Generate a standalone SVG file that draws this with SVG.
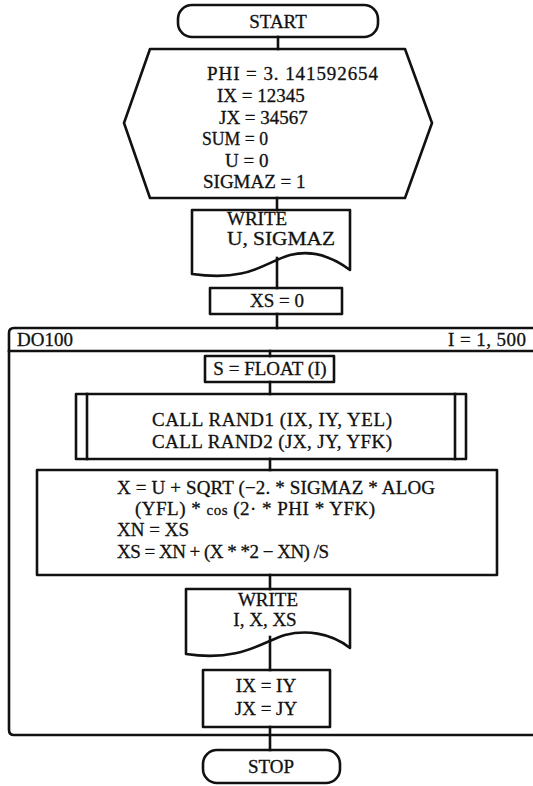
<svg xmlns="http://www.w3.org/2000/svg" width="533" height="786" viewBox="0 0 533 786">
<style>
.s{fill:none;stroke:#111;stroke-width:2.6;stroke-linejoin:round;stroke-linecap:square}
.t{font-family:"Liberation Serif","Times New Roman",serif;font-size:19px;fill:#111;stroke:#111;stroke-width:0.3}
.c{text-anchor:middle}
</style>
<rect width="533" height="786" fill="#fff"/>
<g id="connectors" class="s">
<line x1="278" y1="37" x2="278" y2="49"/>
<line x1="277" y1="198" x2="277" y2="210"/>
<line x1="277" y1="258" x2="277" y2="288"/>
<line x1="277" y1="314" x2="277" y2="328"/>
<line x1="270" y1="351" x2="270" y2="356"/>
<line x1="270" y1="382" x2="270" y2="394"/>
<line x1="270" y1="459" x2="270" y2="470"/>
<line x1="270" y1="575" x2="270" y2="589"/>
<line x1="270" y1="637" x2="270" y2="670"/>
<line x1="270" y1="727" x2="270" y2="750"/>
</g>
<g id="start">
<rect class="s" x="178" y="5" width="200" height="32" rx="14"/>
<text class="t c" x="278" y="28">START</text>
</g>
<g id="init">
<polygon class="s" points="150,49 405,49 432,123 405,198 150,198 124,123"/>
<text class="t" x="207" y="80" textLength="171" lengthAdjust="spacing">PHI = 3. 141592654</text>
<text class="t" x="217" y="102">IX = 12345</text>
<text class="t" x="219" y="124">JX = 34567</text>
<text class="t" x="202" y="145" textLength="66" lengthAdjust="spacingAndGlyphs">SUM  = 0</text>
<text class="t" x="225" y="167">U = 0</text>
<text class="t" x="203" y="188">SIGMAZ = 1</text>
</g>
<g id="write1">
<path class="s" d="M192,210 H350 V270 C330,255 310,250 290,255 C265,262 250,282 192,274 Z"/>
<text class="t" x="227" y="225">WRITE</text>
<text class="t" x="227" y="245" textLength="108" lengthAdjust="spacingAndGlyphs">U, SIGMAZ</text>
</g>
<g id="xs0">
<rect class="s" x="210" y="288" width="132" height="26"/>
<text class="t c" x="277" y="307">XS = 0</text>
</g>
<g id="loop">
<path class="s" d="M540,328 H14 Q9,328 9,333 V730 Q9,735 14,735 H540"/>
<line class="s" x1="9" y1="351" x2="540" y2="351"/>
<text class="t" x="17" y="346">DO100</text>
<text class="t" x="448" y="346" textLength="78" lengthAdjust="spacing">I = 1, 500</text>
</g>
<g id="sfloat">
<rect class="s" x="205" y="356" width="129" height="26"/>
<text class="t c" x="270" y="375">S = FLOAT (I)</text>
</g>
<g id="call">
<rect class="s" x="76" y="394" width="390" height="65"/>
<line class="s" x1="87" y1="394" x2="87" y2="459"/>
<line class="s" x1="455" y1="394" x2="455" y2="459"/>
<text class="t c" x="272" y="426" textLength="240" lengthAdjust="spacing">CALL  RAND1 (IX, IY, YEL)</text>
<text class="t c" x="272" y="448" textLength="240" lengthAdjust="spacing">CALL  RAND2 (JX, JY, YFK)</text>
</g>
<g id="compute">
<rect class="s" x="37" y="470" width="460" height="105"/>
<text class="t" x="117" y="494" textLength="318" lengthAdjust="spacing">X = U + SQRT (−2. * SIGMAZ * ALOG</text>
<text class="t" x="135" y="515" textLength="240" lengthAdjust="spacing">(YFL) * <tspan font-size="15">cos</tspan> (2· * PHI * YFK)</text>
<text class="t" x="117" y="536">XN = XS</text>
<text class="t" x="117" y="558" textLength="212" lengthAdjust="spacing">XS = XN + (X * *2 − XN) /S</text>
</g>
<g id="write2">
<path class="s" d="M186,589 H350 V648 C330,632 305,630 285,635 C262,642 240,662 186,654 Z"/>
<text class="t c" x="268" y="606">WRITE</text>
<text class="t c" x="265" y="626">I, X, XS</text>
</g>
<g id="swap">
<rect class="s" x="203" y="670" width="127" height="57"/>
<text class="t c" x="266" y="692">IX = IY</text>
<text class="t c" x="266" y="715">JX = JY</text>
</g>
<g id="stop">
<rect class="s" x="203" y="750" width="137" height="33" rx="14"/>
<text class="t c" x="271" y="773">STOP</text>
</g>
</svg>
